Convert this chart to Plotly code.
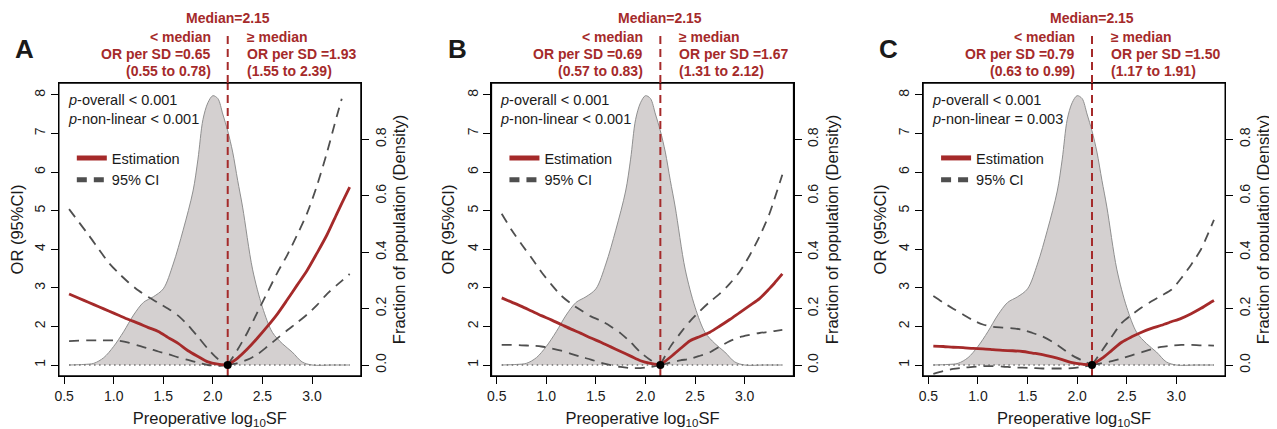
import plotly.graph_objects as go

# ---------------- data ----------------
x_grid = [0.55, 0.65, 0.75, 0.85, 0.95, 1.05, 1.15, 1.25, 1.35, 1.45, 1.55, 1.65, 1.75, 1.85,
          1.95, 2.05, 2.15, 2.25, 2.35, 2.45, 2.55, 2.65, 2.75, 2.85, 2.95, 3.05, 3.15, 3.25,
          3.30, 3.38]

est_A = [2.84, 2.73, 2.62, 2.51, 2.40, 2.29, 2.18, 2.08, 1.97, 1.87, 1.71, 1.56, 1.37, 1.22,
         1.08, 1.02, 1.00, 1.18, 1.42, 1.70, 2.00, 2.32, 2.69, 3.07, 3.45, 3.90, 4.37, 4.92,
         5.19, 5.61]
upper_A = [5.04, 4.70, 4.36, 4.00, 3.65, 3.38, 3.14, 2.93, 2.76, 2.61, 2.46, 2.28, 2.03, 1.73,
           1.42, 1.16, 1.00, 1.40, 1.85, 2.37, 2.88, 3.39, 3.85, 4.37, 4.93, 5.65, 6.50, 7.45,
           7.90, None]
lower_A = [1.62, 1.63, 1.64, 1.64, 1.64, 1.63, 1.58, 1.50, 1.43, 1.35, 1.28, 1.20, 1.13, 1.06,
           1.00, 0.98, 1.00, 1.05, 1.14, 1.28, 1.48, 1.69, 1.90, 2.10, 2.31, 2.55, 2.84, 3.07,
           3.18, 3.36]

est_B = [2.74, 2.63, 2.52, 2.40, 2.28, 2.17, 2.05, 1.93, 1.82, 1.70, 1.59, 1.47, 1.35, 1.23,
         1.11, 1.04, 1.00, 1.20, 1.42, 1.63, 1.74, 1.85, 2.01, 2.18, 2.36, 2.54, 2.72, 2.98,
         3.12, 3.36]
upper_B = [4.92, 4.50, 4.13, 3.78, 3.41, 3.09, 2.80, 2.59, 2.42, 2.26, 2.15, 2.00, 1.82, 1.59,
           1.33, 1.13, 1.00, 1.47, 1.82, 2.14, 2.40, 2.64, 2.85, 3.11, 3.42, 3.84, 4.33, 4.92,
           5.30, 5.93]
lower_B = [1.52, 1.52, 1.51, 1.50, 1.48, 1.43, 1.37, 1.29, 1.21, 1.14, 1.06, 1.00, 0.95, 0.92,
           0.92, 0.95, 1.00, 1.06, 1.12, 1.16, 1.24, 1.33, 1.48, 1.62, 1.72, 1.78, 1.83, 1.86,
           1.88, 1.91]

est_C = [1.49, 1.48, 1.46, 1.45, 1.43, 1.42, 1.40, 1.38, 1.37, 1.35, 1.31, 1.27, 1.21, 1.14,
         1.06, 1.02, 1.00, 1.17, 1.38, 1.59, 1.73, 1.85, 1.95, 2.03, 2.12, 2.21, 2.33, 2.47,
         2.55, 2.67]
upper_C = [2.79, 2.62, 2.46, 2.31, 2.16, 2.05, 1.99, 1.97, 1.95, 1.91, 1.83, 1.74, 1.60, 1.43,
           1.25, 1.12, 1.00, 1.37, 1.74, 2.09, 2.30, 2.49, 2.65, 2.80, 2.95, 3.25, 3.60, 4.00,
           4.28, 4.76]
lower_C = [0.77, 0.84, 0.90, 0.93, 0.95, 0.97, 0.97, 0.96, 0.94, 0.93, 0.92, 0.91, 0.91, 0.91,
           0.92, 0.95, 1.00, 1.05, 1.10, 1.17, 1.25, 1.33, 1.41, 1.47, 1.50, 1.52, 1.52, 1.51,
           1.51, 1.50]

dens_x = [0.55, 0.70, 0.80, 0.90, 1.00, 1.10, 1.20, 1.30, 1.40, 1.50, 1.60, 1.70, 1.80, 1.85,
          1.90, 1.95, 2.00, 2.05, 2.10, 2.15, 2.20, 2.25, 2.30, 2.40, 2.50, 2.60, 2.70, 2.80,
          2.90, 3.00, 3.20, 3.38]
dens_y = [0.000, 0.002, 0.006, 0.026, 0.066, 0.118, 0.177, 0.222, 0.242, 0.270, 0.358, 0.478,
          0.617, 0.730, 0.870, 0.930, 0.955, 0.945, 0.890, 0.830, 0.755, 0.655, 0.560, 0.340,
          0.205, 0.116, 0.076, 0.046, 0.011, 0.000, 0.000, 0.000]

median = 2.15
panel_labels = ["A", "B", "C"]
or_below = ["0.65", "0.69", "0.79"]
ci_below = ["(0.55 to 0.78)", "(0.57 to 0.83)", "(0.63 to 0.99)"]
or_above = ["1.93", "1.67", "1.50"]
ci_above = ["(1.55 to 2.39)", "(1.31 to 2.12)", "(1.17 to 1.91)"]
p_overall = ["< 0.001", "< 0.001", "< 0.001"]
p_nonlinear = ["< 0.001", "< 0.001", "= 0.003"]
x_ticks = [0.5, 1.0, 1.5, 2.0, 2.5, 3.0]
or_ticks = [1, 2, 3, 4, 5, 6, 7, 8]
dens_ticks = [0.0, 0.2, 0.4, 0.6, 0.8]

estimates = [est_A, est_B, est_C]
uppers = [upper_A, upper_B, upper_C]
lowers = [lower_A, lower_B, lower_C]

# ---------------- layout constants ----------------
OFF = 8                      # page body margin of the html page
W, H = 1277 - OFF, 429 - OFF
BOX_L = [55, 489, 922]       # left edge of each panel box (screen px)
BOX_W = 303
BOX_T, BOX_B = 83, 376
X_RANGE = [0.447, 3.493]
OR_RANGE = [0.715, 8.31]
DENS_RANGE = [-0.039, 1.0]

BROWN = "#A52A2A"
CI_COL = "#4f4f4f"
FONT = "Liberation Sans, Arial, Helvetica, sans-serif"
TXT = "#1a1a1a"


def px_x(p):
    return (p - OFF) / W


def px_y(p):
    return 1 - (p - OFF) / H


ydom = [px_y(BOX_B), px_y(BOX_T)]
k_mid = x_grid.index(median)

fig = go.Figure()
annotations = []
shapes = []
layout = {}

for i in range(3):
    n = i + 1
    xa = "x" if n == 1 else f"x{n}"
    yd = "y" if n == 1 else f"y{n}"      # density axis (base, right side)
    yo = f"y{n + 3}"                      # OR axis (overlay, left side)
    leg = "legend" if n == 1 else f"legend{n}"
    left = BOX_L[i]

    # density
    fig.add_trace(go.Scatter(x=dens_x, y=dens_y, xaxis=xa, yaxis=yd, mode="lines",
                             line=dict(color="#8f8f8f", width=1, shape="spline", smoothing=0.9),
                             fill="tozeroy", fillcolor="#D4D0D0", showlegend=False,
                             hoverinfo="skip"))
    # reference line OR = 1
    fig.add_trace(go.Scatter(x=[x_grid[0], x_grid[-1]], y=[1, 1], xaxis=xa, yaxis=yo,
                             mode="lines", line=dict(color="#707070", width=1.5, dash="1.5px,3.5px"),
                             showlegend=False, hoverinfo="skip"))
    # median line (inside box)
    fig.add_trace(go.Scatter(x=[median, median], y=[OR_RANGE[0], OR_RANGE[1]], xaxis=xa, yaxis=yo,
                             mode="lines", line=dict(color=BROWN, width=2, dash="8px,5px"),
                             showlegend=False, hoverinfo="skip"))
    # CIs and estimate, drawn as left / right halves joined at the median
    for series, style, name, rank in [
        (uppers[i], dict(color=CI_COL, width=1.8, dash="10px,7px"), "95% CI", 2),
        (lowers[i], dict(color=CI_COL, width=1.8, dash="10px,7px"), None, 2),
        (estimates[i], dict(color=BROWN, width=2.8), "Estimation", 1),
    ]:
        for half, (a, b) in enumerate([(0, k_mid + 1), (k_mid, len(x_grid))]):
            show = (name is not None) and half == 0
            fig.add_trace(go.Scatter(x=x_grid[a:b], y=series[a:b], xaxis=xa, yaxis=yo,
                                     mode="lines",
                                     line=dict(shape="spline", smoothing=0.8, **style),
                                     name=name if name else "95% CI", legend=leg,
                                     legendrank=rank, showlegend=show,
                                     hoverinfo="skip"))
    # reference point
    fig.add_trace(go.Scatter(x=[median], y=[1], xaxis=xa, yaxis=yo, mode="markers",
                             marker=dict(color="black", size=8), showlegend=False,
                             hoverinfo="skip", cliponaxis=False))

    xdom = [px_x(left), px_x(left + BOX_W)]
    axis_line = dict(showline=True, linecolor="black", linewidth=1.3, ticks="outside",
                     ticklen=7, tickwidth=1.3, tickcolor="black", showgrid=False,
                     zeroline=False, tickfont=dict(size=14, color=TXT, family=FONT))
    layout[f"xaxis{'' if n == 1 else n}"] = dict(
        domain=xdom, anchor=yd, range=X_RANGE, tickvals=x_ticks,
        ticktext=[f"{v:.1f}" for v in x_ticks], mirror=True,
        title=dict(text="Preoperative log<sub>10</sub>SF", font=dict(size=16.5, color=TXT, family=FONT),
                   standoff=10),
        **axis_line)
    layout[f"yaxis{'' if n == 1 else n}"] = dict(
        domain=ydom, anchor=xa, side="right", range=DENS_RANGE, tickvals=dens_ticks,
        ticktext=[f"{v:.1f}" for v in dens_ticks], tickangle=-90,
        title=dict(text="Fraction of population (Density)", font=dict(size=16.5, color=TXT, family=FONT),
                   standoff=5),
        **axis_line)
    layout[f"yaxis{n + 3}"] = dict(
        overlaying=yd, anchor=xa, side="left", range=OR_RANGE, tickvals=or_ticks,
        tickangle=-90,
        title=dict(text="OR (95%CI)", font=dict(size=16.5, color=TXT, family=FONT), standoff=5),
        **axis_line)

    layout[leg] = dict(x=px_x(left + 13), y=px_y(142), xanchor="left", yanchor="top",
                       bgcolor="rgba(0,0,0,0)", borderwidth=0,
                       font=dict(size=14.5, color=TXT, family=FONT),
                       tracegroupgap=0, itemsizing="constant")

    # panel frame
    shapes.append(dict(type="rect", xref=f"{xa} domain", yref=f"{yd} domain",
                       x0=0, x1=1, y0=0, y1=1, line=dict(color="black", width=1.3),
                       layer="above"))
    # median line part above the box
    shapes.append(dict(type="line", xref=xa, yref="paper", x0=median, x1=median,
                       y0=ydom[1], y1=px_y(33), line=dict(color=BROWN, width=2, dash="8px,5px")))

    # texts
    annotations.append(dict(text=f"<b>{panel_labels[i]}</b>", xref="paper", yref="paper",
                            x=px_x(left - 46), y=px_y(49), xanchor="left", yanchor="middle",
                            showarrow=False, font=dict(size=26, color=TXT, family=FONT)))
    annotations.append(dict(text=f"<b>Median={median:.2f}</b>", xref=xa, yref="paper",
                            x=median, y=px_y(18), xanchor="center", yanchor="middle",
                            showarrow=False, font=dict(size=14, color=BROWN, family=FONT)))
    for txt, ypix in [("< median", 36.5), (f"OR per SD ={or_below[i]}", 53.5), (ci_below[i], 71)]:
        annotations.append(dict(text=f"<b>{txt}</b>", xref=xa, yref="paper", x=median, y=px_y(ypix),
                                xanchor="right", yanchor="middle", xshift=-15, showarrow=False,
                                font=dict(size=14, color=BROWN, family=FONT)))
    for txt, ypix in [("≥ median", 36.5), (f"OR per SD ={or_above[i]}", 53.5), (ci_above[i], 71)]:
        annotations.append(dict(text=f"<b>{txt}</b>", xref=xa, yref="paper", x=median, y=px_y(ypix),
                                xanchor="left", yanchor="middle", xshift=17, showarrow=False,
                                font=dict(size=14, color=BROWN, family=FONT)))
    annotations.append(dict(text=f"<i>p</i>-overall {p_overall[i]}", xref="paper", yref="paper",
                            x=px_x(left + 7), y=px_y(100), xanchor="left", yanchor="middle",
                            showarrow=False, font=dict(size=14.5, color=TXT, family=FONT)))
    annotations.append(dict(text=f"<i>p</i>-non-linear {p_nonlinear[i]}", xref="paper", yref="paper",
                            x=px_x(left + 7), y=px_y(119), xanchor="left", yanchor="middle",
                            showarrow=False, font=dict(size=14.5, color=TXT, family=FONT)))

fig.update_layout(width=W, height=H, margin=dict(l=0, r=0, t=0, b=0),
                  paper_bgcolor="white", plot_bgcolor="white",
                  font=dict(family=FONT, color=TXT), annotations=annotations, shapes=shapes,
                  **layout)

fig.write_html("out.html")
